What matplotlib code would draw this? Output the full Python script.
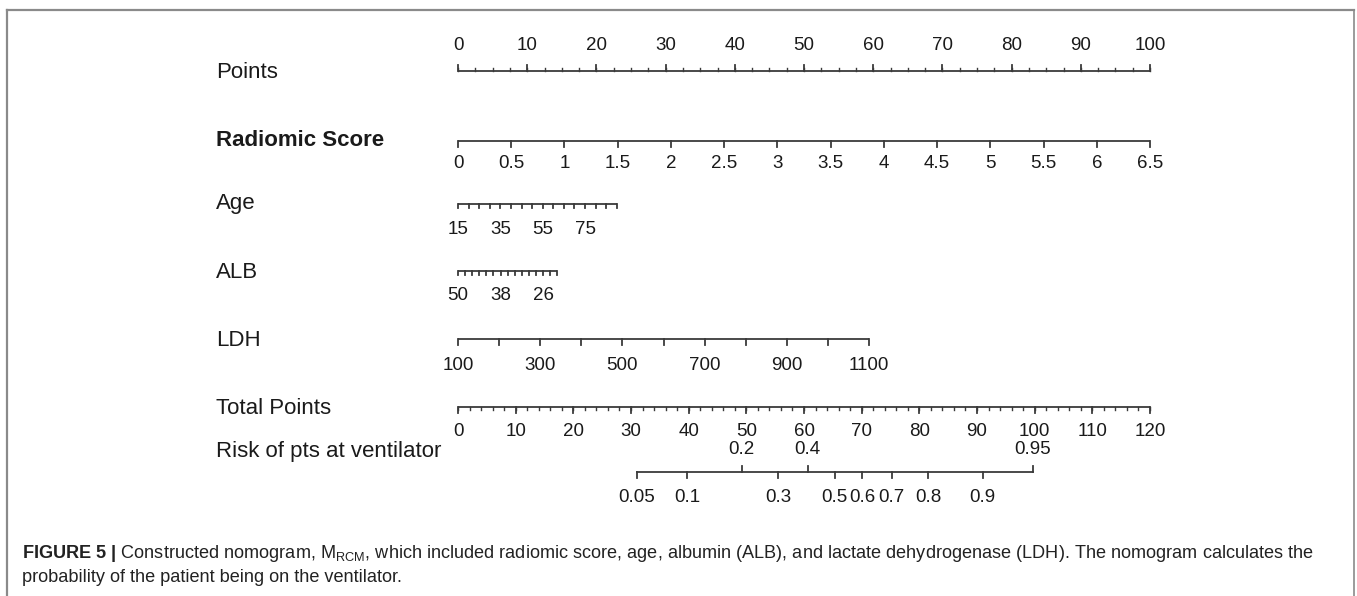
import numpy as np
import matplotlib
matplotlib.use('Agg')
import matplotlib.pyplot as plt
from matplotlib.lines import Line2D

plt.rcParams['font.family'] = ['Liberation Sans', 'DejaVu Sans']
plt.rcParams['mathtext.fontset'] = 'custom'
plt.rcParams['mathtext.rm'] = 'Liberation Sans'
plt.rcParams['mathtext.it'] = 'Liberation Sans:italic'
plt.rcParams['mathtext.bf'] = 'Liberation Sans:bold'

# ---------------- data ----------------
row_names = ['Points', 'Radiomic Score', 'Age', 'ALB', 'LDH', 'Total Points',
             'Risk of pts at ventilator']
points_major = np.arange(0, 101, 10)
points_minor = np.arange(0, 100.01, 2.5)
radiomic_ticks = np.arange(0, 6.51, 0.5)
radiomic_labels = ['0', '0.5', '1', '1.5', '2', '2.5', '3', '3.5', '4', '4.5',
                   '5', '5.5', '6', '6.5']
age_ticks = np.arange(15, 91, 5)
age_labels = [15, 35, 55, 75]
alb_ticks = np.arange(50, 21, -2)
alb_labels = [50, 38, 26]
ldh_ticks = np.arange(100, 1101, 100)
ldh_labels = [100, 300, 500, 700, 900, 1100]
total_major = np.arange(0, 121, 10)
total_minor = np.arange(0, 120.01, 2)
risk_below = [0.05, 0.1, 0.3, 0.5, 0.6, 0.7, 0.8, 0.9]
risk_above = [0.2, 0.4, 0.95]

# scale of each predictor (points contributed)
radiomic_max = 6.5          # -> 100 points
age_pts_per_year = 0.306
alb_pts_per_unit = 0.512
ldh_pts_per_unit = 0.0594
total_max = 120.0
risk_center = 65.35          # total points where risk = 0.5
risk_slope = 0.0857          # logit per total point


def pts_radiomic(v):
    return np.asarray(v) / radiomic_max * 100


def pts_age(v):
    return (np.asarray(v) - 15) * age_pts_per_year


def pts_alb(v):
    return (50 - np.asarray(v)) * alb_pts_per_unit


def pts_ldh(v):
    return (np.asarray(v) - 100) * ldh_pts_per_unit


def pos_total(v):
    return np.asarray(v) / total_max * 100


def pos_risk(p):
    p = np.asarray(p, dtype=float)
    tp = risk_center + np.log(p / (1 - p)) / risk_slope
    return pos_total(tp)


# ---------------- figure ----------------
W, H = 1357, 596
fig = plt.figure(figsize=(W / 100, H / 100), dpi=100)
ax = fig.add_axes([0, 0, 1, 1])
X0, X1 = 458, 1150
s = (X1 - X0) / 100.0
ax.set_xlim(-X0 / s, (W - X0) / s)
ax.set_ylim(H, 0)
ax.axis('off')

LC = '#3a3a3a'
TC = '#1a1a1a'
LW = 1.3
TFS = 13.5
LFS = 16
MAJ = 6
MIN = 3


def draw_axis(y, pos_all, pos_lab, labels, up=False, minor=None, lab_dy=17,
              maj=MAJ):
    ax.plot([min(pos_all), max(pos_all)], [y, y], color=LC, lw=LW,
            solid_capstyle='butt')
    d = -1 if up else 1
    if minor is not None:
        for x in minor:
            ax.plot([x, x], [y, y + d * MIN], color=LC, lw=1.0)
    for x in pos_all:
        ax.plot([x, x], [y, y + d * maj], color=LC, lw=LW)
    for x, t in zip(pos_lab, labels):
        ax.text(x, y + d * lab_dy, t, ha='center', va='center',
                fontsize=TFS, color=TC)


label_x = (216 - X0) / s
rows_y = [71, 141, 204, 271, 339, 407, 472]
label_y = [72, 140, 204, 272, 340, 408, 452]

for name, y in zip(row_names, label_y):
    ax.text(label_x, y, name, ha='left', va='center', fontsize=LFS, color=TC,
            fontweight='bold' if name == 'Radiomic Score' else 'normal')

# Points
draw_axis(rows_y[0], points_major, points_major,
          [str(int(v)) for v in points_major], up=True, minor=points_minor,
          lab_dy=25)
# Radiomic
draw_axis(rows_y[1], pts_radiomic(radiomic_ticks), pts_radiomic(radiomic_ticks),
          radiomic_labels, lab_dy=22)
# Age
draw_axis(rows_y[2], pts_age(age_ticks), pts_age(age_labels),
          [str(v) for v in age_labels], lab_dy=25, maj=4)
# ALB
draw_axis(rows_y[3], pts_alb(alb_ticks), pts_alb(alb_labels),
          [str(v) for v in alb_labels], lab_dy=25, maj=4)
# LDH
draw_axis(rows_y[4], pts_ldh(ldh_ticks), pts_ldh(ldh_labels),
          [str(v) for v in ldh_labels], lab_dy=26)
# Total points
draw_axis(rows_y[5], pos_total(total_major), pos_total(total_major),
          [str(int(v)) for v in total_major], minor=pos_total(total_minor),
          lab_dy=25)
# Risk
yr = rows_y[6]
allr = pos_risk(risk_below + risk_above)
ax.plot([allr.min(), allr.max()], [yr, yr], color=LC, lw=LW)
for p in risk_below:
    x = pos_risk(p)
    ax.plot([x, x], [yr, yr + MAJ], color=LC, lw=LW)
    ax.text(x, yr + 25, f'{p:g}', ha='center', va='center', fontsize=TFS,
            color=TC)
for p in risk_above:
    x = pos_risk(p)
    ax.plot([x, x], [yr, yr - MAJ], color=LC, lw=LW)
    ax.text(x, yr - 22, f'{p:g}', ha='center', va='center', fontsize=TFS,
            color=TC)

# frame of the figure panel
bc = '#8a8a8a'
fig.add_artist(Line2D([7 / W, 1354 / W], [1 - 10 / H, 1 - 10 / H],
                      transform=fig.transFigure, color=bc, lw=1.6))
fig.add_artist(Line2D([7 / W, 7 / W], [0, 1 - 10 / H],
                      transform=fig.transFigure, color=bc, lw=1.6))
fig.add_artist(Line2D([1354 / W, 1354 / W], [0, 1 - 10 / H],
                      transform=fig.transFigure, color=bc, lw=1.2))

# caption
cap1 = (r'$\mathbf{FIGURE\ 5\ |}$ Constructed nomogram, M$_{\mathrm{RCM}}$, '
        'which included radiomic score, age, albumin (ALB), and lactate '
        'dehydrogenase (LDH). The nomogram calculates the')
cap2 = 'probability of the patient being on the ventilator.'
fig.text(22 / W, 1 - 554 / H, cap1, ha='left', va='center', fontsize=13.1,
         color='#222222')
fig.text(22 / W, 1 - 578 / H, cap2, ha='left', va='center', fontsize=13.1,
         color='#222222')

fig.savefig('out.png', dpi=100)
